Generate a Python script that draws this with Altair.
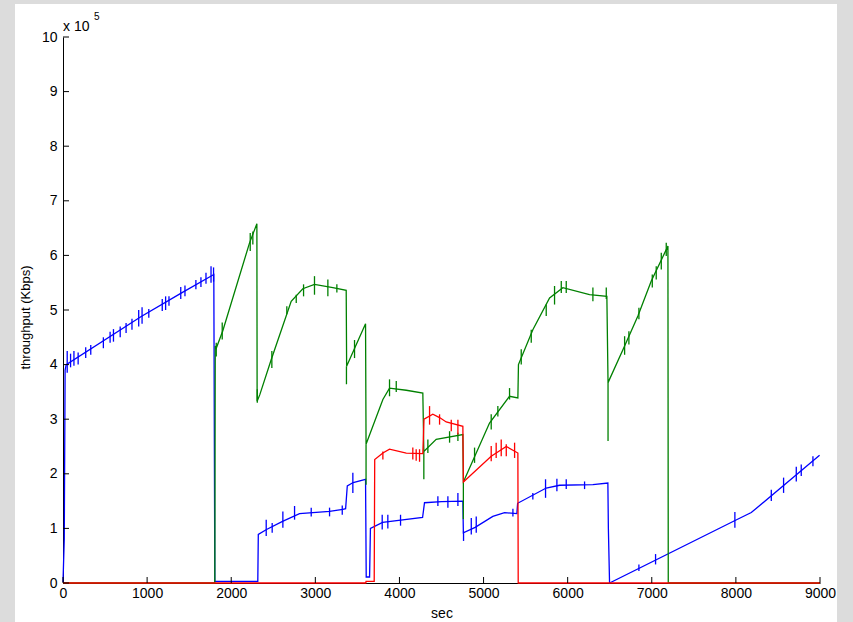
import altair as alt
import pandas as pd

# ---------------- data (values in units of 1e5 Kbps) ----------------
blue_t = [0, 15, 25, 38, 930, 1405, 1793, 1805, 2316, 2322, 2420, 2610, 2812, 3169, 3327,
          3360, 3380, 3450, 3597, 3605, 3645, 3655, 3800, 4275, 4298, 4500, 4754, 4760,
          4900, 5110, 5250, 5396, 5405, 5745, 5904, 6300, 6478, 6484, 6498, 7984, 8183, 8995]
blue_v = [0.02, 0.8, 3.9, 4.0, 4.88, 5.31, 5.65, 0.03, 0.03, 0.89, 0.98, 1.13, 1.27, 1.31, 1.35,
          1.36, 1.78, 1.84, 1.90, 0.11, 0.11, 1.0, 1.11, 1.20, 1.47, 1.49, 1.50, 0.92,
          1.02, 1.22, 1.29, 1.27, 1.46, 1.74, 1.79, 1.80, 1.83, 1.0, 0.0, 1.14, 1.29, 2.34]

green_t = [0, 1805, 1810, 1822, 1900, 2218, 2305, 2308, 2340, 2475, 2713, 2851, 2990, 3208,
           3367, 3372, 3597, 3603, 3803, 3882, 4081, 4278, 4290, 4437, 4754, 4760, 5071,
           5309, 5408, 5415, 5586, 5785, 5943, 6260, 6466, 6480, 6677, 6835, 6994, 7192,
           7196, 9000]
green_v = [0, 0, 4.34, 4.30, 4.62, 6.23, 6.58, 3.33, 3.45, 4.09, 5.16, 5.39, 5.47, 5.41,
           5.36, 3.97, 4.75, 2.54, 3.36, 3.57, 3.53, 3.48, 2.41, 2.63, 2.72, 1.85, 2.93,
           3.42, 3.39, 4.0, 4.64, 5.22, 5.41, 5.28, 5.25, 3.67, 4.34, 4.89, 5.53, 6.17,
           0, 0]

red_t = [0, 3600, 3603, 3700, 3706, 3803, 3882, 4081, 4278, 4292, 4397, 4477, 4556, 4754,
         4760, 5091, 5270, 5408, 5412, 9000]
red_v = [0, 0, 0.03, 0.03, 2.26, 2.38, 2.45, 2.38, 2.37, 3.0, 3.09, 3.03, 2.95, 2.87,
         1.85, 2.32, 2.50, 2.38, 0, 0]

# short noise spikes: time, low, high
blue_spike_t = [50, 90, 130, 180, 270, 330, 480, 560, 600, 680, 750, 820, 900, 940, 1020,
                1180, 1220, 1260, 1400, 1450, 1580, 1640, 1700, 1760, 1790,
                2416, 2487, 2614, 2753, 2951, 3169, 3320, 3446, 3795, 3862, 4013, 4457,
                4576, 4695, 4762, 4854, 4913, 5349, 5586, 5737, 5872, 5983, 6201, 6847,
                7045, 7988, 8421, 8567, 8718, 8777, 8916]
blue_spike_lo = [3.85, 3.95, 3.98, 4.0, 4.12, 4.18, 4.3, 4.4, 4.42, 4.5, 4.58, 4.64, 4.7, 4.75, 4.86,
                 4.98, 5.0, 5.08, 5.2, 5.25, 5.38, 5.42, 5.48, 5.5, 5.52,
                 0.86, 0.92, 1.01, 1.16, 1.22, 1.22, 1.25, 1.65, 0.98, 1.0, 1.05, 1.41,
                 1.38, 1.41, 0.77, 0.89, 0.92, 1.22, 1.53, 1.56, 1.68, 1.72, 1.72, 0.22,
                 0.34, 1.01, 1.50, 1.65, 1.86, 1.96, 2.14]
blue_spike_hi = [4.25, 4.2, 4.25, 4.22, 4.32, 4.36, 4.5, 4.6, 4.65, 4.7, 4.76, 4.84, 5.0, 5.05, 5.02,
                 5.2, 5.25, 5.25, 5.42, 5.45, 5.55, 5.6, 5.68, 5.8, 5.78,
                 1.16, 1.10, 1.31, 1.41, 1.38, 1.38, 1.42, 2.02, 1.25, 1.25, 1.25, 1.59,
                 1.59, 1.65, 0.95, 1.19, 1.22, 1.36, 1.65, 1.90, 1.91, 1.90, 1.86, 0.34,
                 0.53, 1.30, 1.71, 1.93, 2.13, 2.17, 2.32]

green_spike_t = [1822, 1893, 2226, 2257, 2310, 2483, 2661, 2773, 2860, 2990, 3149, 3256, 3370,
                 3466, 3603, 3882, 3962, 4290, 4338, 4596, 4695, 4760, 4893, 5091, 5170,
                 5309, 5448, 5567, 5745, 5844, 5924, 5983, 6300, 6459, 6480, 6677, 6728,
                 6847, 7006, 7053, 7113, 7172]
green_spike_lo = [4.15, 4.46, 6.08, 6.20, 3.30, 3.94, 4.92, 5.13, 5.25, 5.28, 5.25, 5.32, 3.64,
                  4.12, 1.80, 3.42, 3.50, 1.90, 2.38, 2.57, 2.60, 1.17, 2.20, 2.81, 3.05,
                  3.36, 4.00, 4.40, 4.89, 5.10, 5.31, 5.31, 5.16, 5.20, 2.60, 4.18, 4.37,
                  4.83, 5.41, 5.56, 5.74, 5.99]
green_spike_hi = [4.40, 4.77, 6.41, 6.44, 3.55, 4.25, 5.07, 5.28, 5.47, 5.62, 5.56, 5.47, 3.97,
                  4.45, 2.54, 3.73, 3.70, 2.41, 2.63, 2.78, 2.75, 1.85, 2.48, 3.09, 3.24,
                  3.57, 4.28, 4.64, 5.10, 5.44, 5.53, 5.53, 5.41, 5.41, 3.67, 4.52, 4.61,
                  5.04, 5.65, 5.80, 6.05, 6.23]

red_spike_t = [3803, 4159, 4199, 4239, 4358, 4477, 4616, 4695, 5091, 5150, 5210, 5270, 5369]
red_spike_lo = [2.26, 2.26, 2.24, 2.22, 2.90, 2.90, 2.78, 2.72, 2.23, 2.29, 2.32, 2.32, 2.29]
red_spike_hi = [2.41, 2.48, 2.45, 2.45, 3.24, 3.09, 2.99, 2.99, 2.51, 2.57, 2.63, 2.54, 2.57]

x_ticks = [0, 1000, 2000, 3000, 4000, 5000, 6000, 7000, 8000, 9000]
y_ticks = [0, 1, 2, 3, 4, 5, 6, 7, 8, 9, 10]

W, H = 757, 546
FONT = "Liberation Sans"
GRAY = "#dcdcdc"
LW = 1.3

XS = alt.Scale(domain=[0, 9000], nice=False, zero=False)
YS = alt.Scale(domain=[0, 10], nice=False, zero=False)

x_axis = alt.Axis(values=x_ticks, format="d", ticks=False, tickSize=0, grid=False,
                  domainColor="black", domainWidth=1, labelColor="black", labelFont=FONT,
                  labelFontSize=14, labelPadding=3, labelFlush=False, labelOverlap=False,
                  title="sec", titleFont=FONT, titleFontSize=14, titleFontWeight="normal",
                  titleColor="black", titlePadding=6)
y_axis = alt.Axis(values=y_ticks, format="d", ticks=False, tickSize=0, grid=False,
                  domainColor="black", domainWidth=1, labelColor="black", labelFont=FONT,
                  labelFontSize=14, labelPadding=6, labelFlush=False, labelOverlap=False,
                  title="throughput (Kbps)", titleFont=FONT, titleFontSize=13,
                  titleFontWeight="normal", titleColor="black", titlePadding=9, titleY=280)


def line_layer(t, v, color):
    df = pd.DataFrame({"t": t, "v": v, "i": list(range(len(t)))})
    return alt.Chart(df).mark_line(color=color, strokeWidth=LW).encode(
        x=alt.X("t:Q", scale=XS, axis=x_axis),
        y=alt.Y("v:Q", scale=YS, axis=y_axis),
        order="i:Q",
    )


def spike_layer(t, lo, hi, color):
    df = pd.DataFrame({"t": t, "lo": lo, "hi": hi})
    return alt.Chart(df).mark_rule(color=color, strokeWidth=LW).encode(
        x=alt.X("t:Q", scale=XS, axis=x_axis),
        y=alt.Y("lo:Q", scale=YS, axis=y_axis),
        y2="hi:Q",
    )


def strip(x0, x1, y0, y1):
    return alt.Chart(pd.DataFrame({"a": [0]})).mark_rect(color=GRAY).encode(
        x=alt.value(x0), x2=alt.value(x1), y=alt.value(y0), y2=alt.value(y1)
    )


xtick_layer = alt.Chart(pd.DataFrame({"t": x_ticks})).mark_rule(color="black").encode(
    x=alt.X("t:Q", scale=XS, axis=x_axis), y=alt.value(H), y2=alt.value(H - 6)
)
ytick_layer = alt.Chart(pd.DataFrame({"v": y_ticks})).mark_rule(color="black").encode(
    y=alt.Y("v:Q", scale=YS, axis=y_axis), x=alt.value(0), x2=alt.value(6)
)

exp_base = alt.Chart(pd.DataFrame({"s": ["x 10"]})).mark_text(
    font=FONT, fontSize=14, align="left", baseline="alphabetic", color="black"
).encode(text="s:N", x=alt.value(0), y=alt.value(-6))
exp_pow = alt.Chart(pd.DataFrame({"s": ["5"]})).mark_text(
    font=FONT, fontSize=10, align="left", baseline="alphabetic", color="black"
).encode(text="s:N", x=alt.value(31), y=alt.value(-17))

chart = alt.layer(
    strip(-63, -48, -37, 585),
    strip(-63, 790, -37, -33),
    strip(774, 790, -37, 585),
    line_layer(blue_t, blue_v, "#0000ff"),
    spike_layer(blue_spike_t, blue_spike_lo, blue_spike_hi, "#0000ff"),
    line_layer(green_t, green_v, "#008000"),
    spike_layer(green_spike_t, green_spike_lo, green_spike_hi, "#008000"),
    line_layer(red_t, red_v, "#ff0000"),
    spike_layer(red_spike_t, red_spike_lo, red_spike_hi, "#ff0000"),
    xtick_layer,
    ytick_layer,
    exp_base,
    exp_pow,
).properties(
    width=W,
    height=H,
    autosize=alt.AutoSizeParams(type="none"),
    padding={"left": 63, "top": 37, "right": 33, "bottom": 39},
    background="white",
).configure_view(stroke=None)

chart.save("out.html", embed_options={"renderer": "svg", "actions": False})
